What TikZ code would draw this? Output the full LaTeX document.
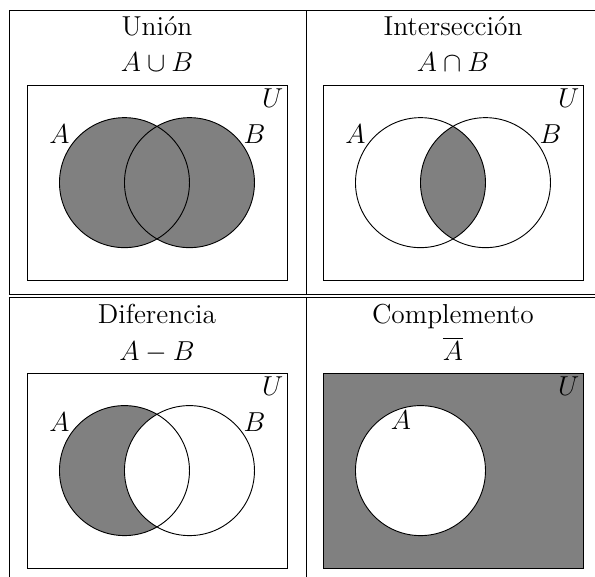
\documentclass[tikz,border=0pt,12pt]{standalone}
\begin{document}
\begin{tikzpicture}
	\def\radius{1cm}
	\useasboundingbox (0,0) rectangle (9.154,-8.877);
	
	% rayas de la tabla
	\coordinate (nw) at (0.138,-0.154);
	\coordinate (ne) at (9.154,-0.154);
	\coordinate (sw) at (0.138,-8.877);
	\coordinate (mn) at (4.708,-0.154);
	\coordinate (ms) at (4.708,-8.877);
	\coordinate (hli) at (0.138,-4.523);
	\coordinate (hri) at (9.154,-4.523);
	\coordinate (hlii) at (0.138,-4.569);
	\coordinate (hrii) at (9.154,-4.569);
	\coordinate (hmi) at (4.708,-4.523);
	\coordinate (hmii) at (4.708,-4.569);
	\draw (hli) -- (nw) -- (ne);
	\draw (hlii) -- (sw);
	\draw (mn) -- (hmi);
	\draw (hmii) -- (ms);
	\draw (hli) -- (hri);
	\draw (hlii) -- (hrii);
	
	% union
	\begin{scope}[shift={(0.415,-4.31)}]
		\coordinate (ua) at (1.5,1.5);
		\coordinate (ub) at (2.5,1.5);
		\fill[gray] (ua) circle (\radius) (ub) circle (\radius);
		\draw (ua) circle (\radius);
		\draw (ub) circle (\radius);
		\draw (0,0) rectangle (4,3);
		\node[anchor=base] (utit) at (2,3.77) {Unión};
		\node[anchor=base] (uop) at (2,3.21) {$A\cup B$};
		\node (ula) at (0.5,2.25) {$A$};
		\node (ulb) at (3.5,2.25) {$B$};
		\node (ulu) at (3.78,2.8) {$U$};
	\end{scope}
	
	% interseccion
	\begin{scope}[shift={(4.969,-4.31)}]
		\coordinate (ia) at (1.5,1.5);
		\coordinate (ib) at (2.5,1.5);
		\begin{scope}
			\clip (ia) circle (\radius);
			\fill[gray] (ib) circle (\radius);
		\end{scope}
		\draw (ia) circle (\radius);
		\draw (ib) circle (\radius);
		\draw (0,0) rectangle (4,3);
		\node[anchor=base] (itit) at (2,3.77) {Intersección};
		\node[anchor=base] (iop) at (2,3.21) {$A\cap B$};
		\node (ila) at (0.5,2.25) {$A$};
		\node (ilb) at (3.5,2.25) {$B$};
		\node (ilu) at (3.78,2.8) {$U$};
	\end{scope}
	
	% diferencia
	\begin{scope}[shift={(0.415,-8.74)}]
		\coordinate (da) at (1.5,1.5);
		\coordinate (db) at (2.5,1.5);
		\begin{scope}
			\clip (da) circle (\radius);
			\fill[gray] (da) circle (\radius);
			\fill[white] (db) circle (\radius);
		\end{scope}
		\draw (da) circle (\radius);
		\draw (db) circle (\radius);
		\draw (0,0) rectangle (4,3);
		\node[anchor=base] (dtit) at (2,3.76) {Diferencia};
		\node[anchor=base] (dop) at (2,3.19) {$A-B$};
		\node (dla) at (0.5,2.25) {$A$};
		\node (dlb) at (3.5,2.25) {$B$};
		\node (dlu) at (3.78,2.8) {$U$};
	\end{scope}
	
	% complemento
	\begin{scope}[shift={(4.969,-8.74)}]
		\coordinate (ca) at (1.5,1.5);
		\fill[gray] (0,0) rectangle (4,3);
		\fill[white] (ca) circle (\radius);
		\draw (ca) circle (\radius);
		\draw (0,0) rectangle (4,3);
		\node[anchor=base] (ctit) at (2,3.76) {Complemento};
		\node[anchor=base] (cop) at (2,3.19) {$\overline{A}$};
		\node (cla) at (1.2,2.28) {$A$};
		\node (clu) at (3.78,2.8) {$U$};
	\end{scope}
\end{tikzpicture}
\end{document}
